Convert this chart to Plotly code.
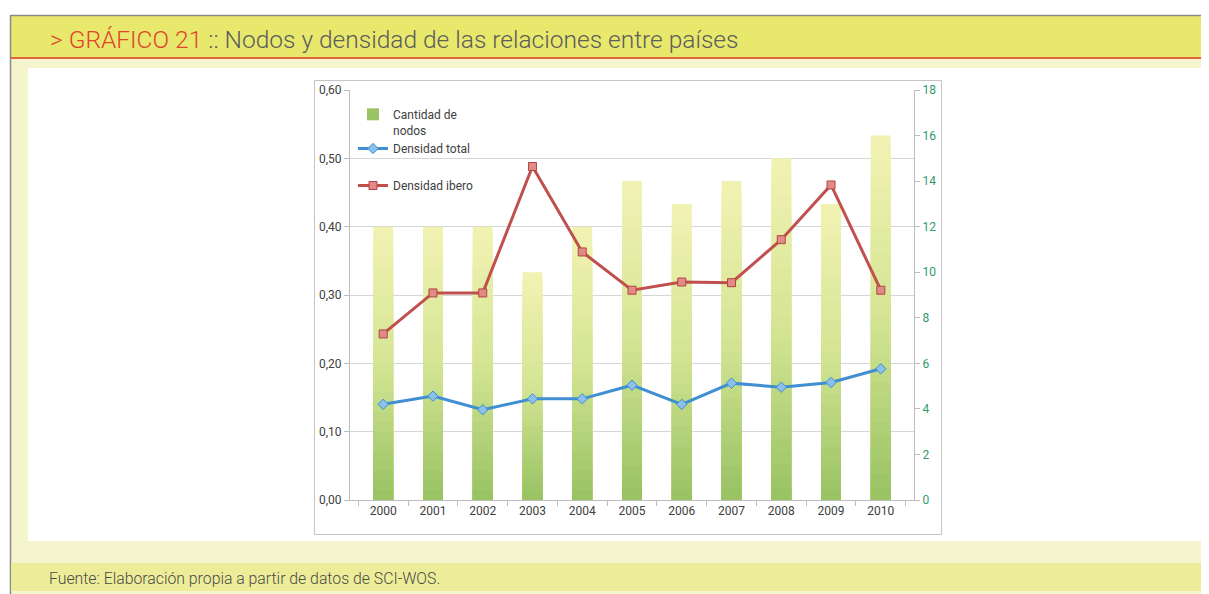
import plotly.graph_objects as go

# ---------------- data ----------------
years = ["2000", "2001", "2002", "2003", "2004", "2005", "2006", "2007", "2008", "2009", "2010"]
cantidad_nodos = [12, 12, 12, 10, 12, 14, 13, 14, 15, 13, 16]
densidad_total = [0.140, 0.152, 0.132, 0.148, 0.148, 0.168, 0.140, 0.171, 0.165, 0.172, 0.192]
densidad_ibero = [0.243, 0.303, 0.303, 0.488, 0.363, 0.307, 0.319, 0.318, 0.381, 0.461, 0.307]
left_ticks = [0.0, 0.1, 0.2, 0.3, 0.4, 0.5, 0.6]
left_ticktext = ["0,00", "0,10", "0,20", "0,30", "0,40", "0,50", "0,60"]
right_ticks = [0, 2, 4, 6, 8, 10, 12, 14, 16, 18]

# ---------------- geometry helpers (reference pixel -> paper) ----------------
OFF = 8  # page body margin of the html
W, H = 1209 - OFF, 594 - OFF
L, R, T, B = 350, 914, 90, 500  # plot area in reference pixels


def px(x):
    return (x - L) / (R - L)


def py(y):
    return (B - y) / (B - T)


FONT = "Roboto"

fig = go.Figure()

# gradient bars: overlay of scaled copies (top light yellow -> bottom green)
top_c = (241, 242, 178)
mid_c = (212, 229, 148)
bot_c = (154, 195, 100)
N = 28


def lerp(a, b, t):
    return tuple(round(a[i] + (b[i] - a[i]) * t) for i in range(3))


for k in range(N):
    frac = 1 - k / N
    t = k / (N - 1)
    if t < 0.5:
        c = lerp(top_c, mid_c, t / 0.5)
    else:
        c = lerp(mid_c, bot_c, (t - 0.5) / 0.5)
    col = "rgb(%d,%d,%d)" % c
    fig.add_trace(go.Bar(
        x=years, y=[v * frac for v in cantidad_nodos],
        marker=dict(color=col, line=dict(width=0)),
        name="Cantidad de<br>nodos",
        showlegend=(k == N - 1),
        legendgroup="a",
        yaxis="y",
        hoverinfo="skip" if k else "x+y",
    ))

fig.add_trace(go.Scatter(
    x=years, y=densidad_total, name="Densidad total", mode="lines+markers",
    line=dict(color="#3f8fd2", width=3),
    marker=dict(symbol="diamond", size=8, color="#8cc0ea", line=dict(color="#3f8fd2", width=1)),
    yaxis="y2", legendgroup="a",
))
fig.add_trace(go.Scatter(
    x=years, y=densidad_ibero, name="Densidad ibero", mode="lines+markers",
    line=dict(color="#c0504d", width=3),
    marker=dict(symbol="square", size=8, color="#e08b88", line=dict(color="#b5433f", width=1)),
    yaxis="y2", legendgroup="b",
))

RW, RH = 1209, 594
shapes = [
    dict(type="rect", xref="paper", yref="paper", x0=px(11), x1=px(RW + 5), y0=py(59), y1=py(RH + 5),
         fillcolor="#f5f5cd", line=dict(width=0), layer="below"),
    dict(type="rect", xref="paper", yref="paper", x0=px(11), x1=px(RW + 5), y0=py(16), y1=py(57),
         fillcolor="#e8e86d", line=dict(width=0), layer="below"),
    dict(type="line", xref="paper", yref="paper", x0=px(11), x1=px(RW + 5), y0=py(58), y1=py(58),
         line=dict(color="#e0643c", width=2), layer="below"),
    dict(type="line", xref="paper", yref="paper", x0=px(10), x1=px(RW + 5), y0=py(15.5), y1=py(15.5),
         line=dict(color="#8a8a8a", width=1.5), layer="below"),
    dict(type="line", xref="paper", yref="paper", x0=px(10.5), x1=px(10.5), y0=py(15), y1=py(RH + 5),
         line=dict(color="#8a8a8a", width=1.5), layer="below"),
    dict(type="rect", xref="paper", yref="paper", x0=px(28), x1=px(1206), y0=py(68), y1=py(541),
         fillcolor="white", line=dict(width=0), layer="below"),
    dict(type="rect", xref="paper", yref="paper", x0=px(314.5), x1=px(941.5), y0=py(80.5), y1=py(534.5),
         fillcolor="white", line=dict(color="#c4c4c4", width=1), layer="below"),
    dict(type="rect", xref="paper", yref="paper", x0=px(11), x1=px(RW + 5), y0=py(563), y1=py(591),
         fillcolor="#eded99", line=dict(width=0), layer="below"),
]

annotations = [
    dict(xref="paper", yref="paper", x=px(48), y=py(40), xanchor="left", yanchor="middle",
         text="<span style='color:#e0442e'>&gt; GRÁFICO 21</span> :: Nodos y densidad de las relaciones entre países",
         showarrow=False, font=dict(family=FONT, size=24.5, color="#5c5c5c", weight=300)),
    dict(xref="paper", yref="paper", x=px(47), y=py(578), xanchor="left", yanchor="middle",
         text="Fuente: Elaboración propia a partir de datos de SCI-WOS.",
         showarrow=False, font=dict(family=FONT, size=15.8, color="#4a4a4a", weight=300)),
]

fig.update_layout(
    width=W, height=H,
    margin=dict(l=L - OFF, r=RW - R, t=T - OFF, b=RH - B, pad=0),
    paper_bgcolor="white", plot_bgcolor="white",
    barmode="overlay", bargap=0.6,
    font=dict(family=FONT, size=12, color="#404040"),
    shapes=shapes, annotations=annotations,
    showlegend=True,
    legend=dict(x=px(353), y=py(100), xanchor="left", yanchor="top",
                bgcolor="rgba(0,0,0,0)", traceorder="grouped", tracegroupgap=18,
                valign="top", font=dict(family=FONT, size=12, color="#404040")),
    xaxis=dict(type="category", showgrid=False, showline=True, linecolor="#bdbdbd", linewidth=1,
               ticks="outside", ticklen=5, tickcolor="#bdbdbd", tickson="boundaries",
               tickfont=dict(family=FONT, size=12, color="#404040")),
    yaxis=dict(range=[0, 18], side="right", tickvals=right_ticks, showgrid=False,
               showline=True, linecolor="#bdbdbd", linewidth=1, ticks="outside", ticklen=5,
               tickcolor="#bdbdbd", zeroline=False,
               tickfont=dict(family=FONT, size=12, color="#2f9a6a")),
    yaxis2=dict(range=[0, 0.6], side="left", overlaying="y", tickvals=left_ticks,
                ticktext=left_ticktext, showgrid=True, gridcolor="#d6d6d6", gridwidth=1,
                showline=True, linecolor="#bdbdbd", linewidth=1, ticks="outside", ticklen=5,
                tickcolor="#bdbdbd", zeroline=False,
                tickfont=dict(family=FONT, size=12, color="#404040")),
)

fig.write_html("out.html")
